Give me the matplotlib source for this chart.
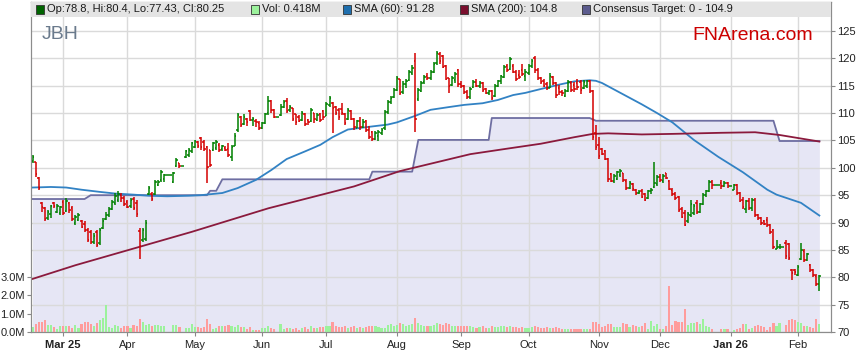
import numpy as np
import pandas as pd
import matplotlib
matplotlib.use('Agg')
import matplotlib.pyplot as plt
from matplotlib.collections import LineCollection
from matplotlib.patches import Rectangle

plt.rcParams['font.family'] = ['Liberation Sans', 'DejaVu Sans']

# Daily bars, 17 Feb 2025 .. 11 Feb 2026 (weekdays, holidays drawn flat)
dates = pd.bdate_range('2025-02-17', periods=258)

opens = [101.2, 101.0, 98.2, 93.5, 92.6, 90.8, 91.5, 93.6, 92.0, 91.8,
         93.8, 92.2, 93.6, 92.6, 90.0, 90.4, 90.3, 89.8, 88.7, 88.2,
         86.4, 88.2, 86.2, 89.0, 90.6, 91.3, 92.5, 93.5, 94.2, 95.1,
         94.5, 93.8, 93.0, 94.3, 93.5, 88.5, 86.8, 87.0, 95.3, 95.2,
         95.3, 96.8, 97.8, 98.0, 98.6, 98.6, 97.4, 100.4, 100.8, 100.3,
         102.0, 102.4, 103.0, 103.8, 104.8, 105.4, 104.8, 103.8, 103.2, 103.3,
         103.6, 104.2, 103.5, 103.7, 103.4, 102.0, 104.0, 107.0, 109.2, 108.0,
         109.0, 110.4, 108.8, 108.5, 108.2, 107.3, 108.2, 110.0, 112.3, 110.6,
         109.3, 109.6, 111.2, 112.3, 110.5, 110.9, 109.8, 109.3, 108.8, 109.9,
         108.8, 108.6, 110.0, 108.8, 109.8, 110.3, 109.5, 111.4, 111.8, 111.2,
         110.6, 110.7, 109.8, 109.0, 110.4, 108.9, 107.3, 108.6, 107.5, 108.5,
         107.0, 106.5, 105.3, 105.8, 106.4, 107.2, 110.2, 112.1, 113.0, 114.2,
         116.2, 113.8, 115.4, 116.0, 117.4, 119.5, 112.5, 114.0, 115.6, 116.8,
         116.5, 117.6, 119.1, 120.8, 120.5, 118.6, 116.4, 115.2, 116.0, 117.8,
         115.4, 114.9, 113.8, 113.0, 114.8, 115.7, 115.0, 115.5, 114.4, 113.6,
         114.0, 113.2, 115.0, 115.8, 116.6, 118.6, 118.0, 118.6, 117.6, 116.9,
         117.8, 116.8, 117.4, 118.6, 120.0, 117.9, 116.4, 115.9, 115.4, 114.6,
         116.6, 115.5, 114.5, 113.8, 113.2, 114.0, 115.5, 115.2, 115.5, 115.6,
         114.6, 115.0, 115.8, 114.0, 106.3, 104.2, 103.4, 103.0, 101.6, 98.8,
         97.6, 98.0, 98.6, 99.0, 97.6, 96.3, 97.0, 96.0, 95.4, 95.8,
         95.2, 94.5, 95.7, 96.5, 97.0, 98.3, 97.6, 99.0, 97.6, 96.0,
         95.2, 94.6, 92.5, 91.7, 90.2, 91.4, 91.7, 93.6, 92.0, 93.4,
         95.0, 95.8, 97.4, 96.8, 96.8, 97.3, 96.6, 97.3, 96.6, 96.0,
         96.8, 95.4, 94.2, 92.5, 94.0, 92.6, 94.2, 91.4, 90.9, 90.2,
         90.5, 89.5, 88.6, 85.2, 85.5, 85.6, 86.2, 86.0, 81.4, 81.4,
         80.5, 83.3, 84.8, 83.2, 82.3, 81.4, 80.3, 78.8]
highs = [102.4, 101.1, 98.4, 93.8, 92.9, 92.3, 93.2, 93.8, 93.4, 93.1,
         94.2, 94.4, 93.8, 93.0, 91.4, 91.7, 90.5, 90.2, 89.0, 88.7,
         88.0, 88.7, 89.0, 90.8, 92.0, 92.9, 94.2, 95.4, 95.7, 95.4,
         94.8, 94.2, 94.5, 94.7, 94.2, 89.0, 89.0, 90.5, 96.6, 95.5,
         97.8, 97.8, 99.6, 98.9, 98.6, 98.6, 99.3, 101.8, 100.9, 100.3,
         103.3, 103.6, 104.8, 105.1, 104.9, 105.7, 105.1, 104.0, 103.3, 104.8,
         105.1, 104.5, 104.2, 103.9, 104.6, 104.2, 106.3, 110.0, 109.5, 109.8,
         109.1, 110.6, 109.3, 108.9, 108.6, 108.4, 110.1, 113.1, 112.4, 110.8,
         109.3, 111.6, 112.4, 112.7, 111.5, 111.0, 109.9, 109.7, 110.3, 110.0,
         109.0, 110.9, 110.1, 110.0, 110.0, 110.6, 112.1, 113.1, 112.0, 111.3,
         110.9, 111.8, 110.0, 110.9, 110.6, 109.1, 108.8, 109.2, 108.9, 108.8,
         107.6, 106.8, 106.7, 106.9, 107.3, 110.6, 112.4, 113.1, 114.5, 116.8,
         116.3, 115.8, 116.2, 117.8, 118.8, 121.0, 114.5, 115.9, 116.9, 117.3,
         117.8, 119.4, 121.4, 121.1, 120.6, 118.8, 116.5, 116.8, 117.6, 118.0,
         115.9, 115.2, 114.2, 114.8, 116.0, 116.2, 115.8, 115.7, 114.6, 114.3,
         114.2, 115.4, 116.1, 117.0, 118.8, 118.9, 120.2, 118.9, 117.9, 117.9,
         118.9, 118.0, 119.0, 119.9, 120.4, 118.2, 116.6, 116.2, 115.6, 117.3,
         116.8, 115.7, 115.1, 114.2, 114.4, 116.1, 115.8, 115.6, 116.2, 116.1,
         116.0, 116.1, 116.0, 114.3, 107.9, 105.7, 103.6, 103.3, 101.8, 99.0,
         98.9, 99.5, 99.8, 99.1, 97.9, 97.6, 97.2, 96.1, 95.9, 96.2,
         95.4, 96.0, 96.3, 101.1, 98.6, 98.9, 98.9, 99.1, 97.8, 96.3,
         95.5, 94.8, 92.9, 92.3, 92.0, 94.2, 93.3, 94.2, 93.6, 95.4,
         96.0, 97.8, 97.7, 96.8, 96.8, 97.7, 97.6, 97.5, 96.6, 97.1,
         97.0, 95.6, 94.6, 94.2, 94.4, 94.4, 94.4, 91.6, 91.0, 90.4,
         91.0, 89.8, 88.9, 86.9, 86.0, 85.6, 86.9, 86.3, 81.5, 81.5,
         82.2, 86.2, 85.1, 84.5, 82.5, 81.6, 80.6, 80.4]
lows = [100.9, 98.4, 96.0, 92.0, 90.2, 90.5, 90.8, 92.6, 91.8, 91.4,
        91.3, 92.0, 91.7, 90.2, 89.6, 90.2, 89.0, 88.3, 86.5, 86.1,
        86.1, 85.6, 85.9, 88.9, 90.5, 91.1, 92.3, 93.2, 93.8, 93.8,
        93.0, 92.6, 92.6, 92.3, 91.1, 83.3, 86.5, 86.6, 95.1, 93.9,
        95.1, 96.6, 97.5, 97.5, 98.6, 98.6, 97.2, 100.2, 100.0, 100.3,
        101.8, 102.0, 102.7, 103.6, 103.6, 103.3, 103.0, 97.2, 100.2, 103.1,
        103.3, 102.8, 103.0, 103.1, 101.9, 101.2, 103.9, 106.5, 107.4, 107.8,
        107.6, 108.5, 107.6, 107.5, 106.9, 107.1, 108.0, 109.7, 110.0, 109.1,
        109.3, 109.5, 110.9, 110.0, 110.2, 108.5, 107.8, 108.4, 108.6, 107.6,
        107.9, 108.4, 108.2, 108.5, 108.4, 108.8, 109.4, 111.2, 106.3, 109.7,
        108.8, 109.7, 107.9, 108.8, 108.8, 107.0, 107.2, 107.0, 107.2, 106.6,
        105.3, 104.9, 105.1, 104.9, 106.0, 107.0, 109.9, 111.6, 112.7, 114.0,
        113.3, 113.5, 114.5, 115.8, 116.9, 106.6, 112.3, 113.8, 115.4, 116.1,
        116.0, 117.3, 118.8, 119.0, 118.2, 116.0, 113.7, 115.0, 115.5, 114.8,
        114.5, 113.4, 112.6, 112.6, 114.5, 114.8, 114.6, 113.9, 113.5, 113.3,
        112.4, 113.0, 114.8, 115.4, 116.4, 117.6, 117.8, 117.3, 115.8, 116.3,
        116.7, 115.9, 117.0, 118.3, 117.3, 116.1, 115.4, 114.7, 114.3, 114.5,
        115.1, 112.8, 113.3, 113.2, 112.9, 113.8, 113.8, 113.8, 114.2, 113.5,
        114.4, 114.6, 113.6, 105.1, 103.3, 101.7, 102.4, 101.5, 97.5, 97.4,
        97.3, 97.7, 98.4, 97.4, 96.0, 96.1, 95.8, 95.0, 95.2, 94.4,
        93.9, 94.3, 95.2, 96.3, 96.6, 97.5, 97.3, 97.9, 95.9, 94.9,
        94.2, 92.0, 90.8, 89.3, 90.0, 91.0, 91.4, 91.5, 91.7, 93.2,
        94.6, 95.6, 96.2, 96.8, 96.8, 96.2, 96.5, 96.4, 96.6, 95.9,
        95.0, 93.7, 92.5, 91.7, 92.3, 92.2, 91.1, 90.5, 89.6, 89.5,
        89.2, 87.9, 85.1, 85.1, 85.2, 85.6, 83.4, 83.2, 79.5, 80.5,
        80.2, 83.1, 82.8, 82.9, 81.0, 80.0, 78.4, 77.43]
closes = [102.0, 98.8, 96.3, 92.9, 90.6, 92.0, 93.0, 93.0, 93.1, 92.9,
          91.8, 94.0, 92.3, 90.6, 91.0, 91.3, 89.2, 88.6, 86.9, 86.5,
          87.6, 85.9, 88.6, 90.3, 91.4, 92.4, 93.8, 94.8, 95.2, 94.4,
          93.4, 92.9, 94.2, 92.6, 91.5, 85.8, 88.6, 90.0, 96.3, 94.3,
          97.4, 97.5, 99.3, 98.6, 98.6, 98.6, 99.0, 101.5, 100.3, 100.3,
          103.0, 103.2, 104.5, 104.9, 103.9, 103.8, 103.4, 100.2, 100.6, 104.5,
          104.7, 103.2, 103.9, 103.3, 102.3, 103.8, 105.9, 109.6, 107.9, 109.3,
          108.3, 108.8, 109.0, 108.3, 107.3, 108.1, 109.8, 112.3, 110.5, 109.3,
          109.3, 111.2, 112.0, 110.4, 111.2, 108.9, 108.3, 108.6, 110.0, 108.0,
          108.4, 110.5, 108.9, 109.7, 108.7, 109.2, 111.6, 112.8, 111.0, 110.0,
          109.2, 110.0, 108.2, 110.6, 109.0, 107.5, 108.5, 107.4, 108.4, 106.9,
          105.7, 105.3, 106.3, 106.5, 106.9, 110.2, 112.0, 112.8, 114.2, 116.4,
          113.7, 115.4, 115.9, 117.5, 118.3, 108.9, 114.2, 115.5, 116.6, 116.4,
          117.5, 119.0, 121.0, 119.6, 118.5, 116.3, 115.0, 116.4, 117.2, 115.3,
          114.9, 113.8, 112.9, 114.4, 115.6, 115.0, 115.5, 114.2, 113.7, 114.1,
          112.8, 115.0, 115.8, 116.7, 118.5, 117.9, 119.8, 117.6, 116.2, 116.6,
          117.2, 117.6, 118.6, 119.6, 117.9, 116.5, 115.7, 115.0, 114.6, 116.8,
          115.5, 113.3, 113.8, 113.6, 114.1, 115.6, 114.2, 114.4, 114.7, 114.2,
          115.6, 115.8, 114.1, 105.6, 103.8, 102.2, 102.6, 101.7, 98.0, 97.6,
          98.5, 99.2, 99.5, 97.7, 96.3, 97.2, 96.1, 95.4, 95.6, 94.6,
          94.1, 95.7, 96.0, 97.3, 98.3, 97.8, 98.5, 98.2, 96.2, 95.2,
          94.5, 92.3, 91.1, 89.6, 91.6, 93.4, 93.0, 91.9, 93.3, 95.0,
          95.8, 97.4, 96.8, 96.8, 96.8, 96.6, 97.2, 96.6, 96.6, 96.8,
          95.4, 94.0, 92.8, 93.9, 92.6, 94.1, 91.4, 90.8, 90.0, 89.8,
          89.5, 88.2, 85.5, 85.6, 85.6, 85.6, 83.8, 83.5, 80.8, 80.9,
          81.9, 85.0, 83.2, 84.2, 81.4, 80.4, 78.8, 80.25]

# volume in millions (0 = holiday)
volumes = [0.27, 0.42, 0.53, 0.53, 0.67, 0.36, 0.36, 0.25, 0.18, 0.35,
           0.35, 0.31, 0.31, 0.20, 0.40, 0.20, 0.45, 0.56, 0.56, 0.42,
           0.31, 0.49, 0.64, 0.75, 1.45, 0.25, 0.24, 0.36, 0.31, 0.20,
           0.31, 0.31, 0.20, 0.38, 0.31, 0.69, 0.53, 0.38, 0.42, 0.35,
           0.36, 0.36, 0.31, 0.31, 0, 0, 0.36, 0.40, 0.25, 0,
           0.24, 0.20, 0.42, 0.27, 0.25, 0.20, 0.25, 0.69, 0.42, 0.18,
           0.20, 0.31, 0.31, 0.33, 0.40, 0.35, 0.27, 0.40, 0.27, 0.25,
           0.15, 0.25, 0.13, 0.13, 0.11, 0.24, 0.22, 0.35, 0.20, 0.15,
           0, 0.45, 0.15, 0.20, 0.20, 0.15, 0.20, 0.09, 0.20, 0.25,
           0.18, 0.30, 0.22, 0.20, 0.28, 0.25, 0.35, 0.30, 0.55, 0.30,
           0.25, 0.28, 0.30, 0.22, 0.25, 0.30, 0.22, 0.28, 0.20, 0.25,
           0.30, 0.35, 0.30, 0.25, 0.22, 0.20, 0.40, 0.45, 0.35, 0.40,
           0.50, 0.45, 0.35, 0.40, 0.45, 0.75, 0.50, 0.40, 0.35, 0.30,
           0.35, 0.40, 0.50, 0.45, 0.40, 0.50, 0.45, 0.30, 0.30, 0.35,
           0.30, 0.30, 0.35, 0.30, 0.25, 0.22, 0.25, 0.30, 0.20, 0.22,
           0.30, 0.25, 0.25, 0.30, 0.35, 0.25, 0.30, 0.28, 0.25, 0.22,
           0.25, 0.20, 0.22, 0.25, 0.30, 0.25, 0.22, 0.20, 0.25, 0.22,
           0.20, 0.28, 0.22, 0.18, 0.18, 0.18, 0.15, 0.15, 0.18, 0.18,
           0.15, 0.18, 0.18, 0.53, 0.56, 0.42, 0.27, 0.31, 0.45, 0.45,
           0.25, 0.25, 0.25, 0.47, 0.42, 0.25, 0.36, 0.35, 0.27, 0.31,
           0.49, 0.18, 0.58, 0.33, 0.44, 0.18, 0.18, 0.31, 2.49, 0.40,
           0.58, 0.53, 0.53, 1.24, 0.36, 0.49, 0.49, 0.53, 0.42, 0.73,
           0.31, 0.29, 0.15, 0, 0, 0.15, 0.15, 0.18, 0, 0.09,
           0.16, 0.22, 0.42, 0.42, 0.18, 0.20, 0.31, 0.36, 0.33, 0.27,
           0.13, 0.27, 0.49, 0.31, 0.49, 0, 0.36, 0.64, 0.73, 0.64,
           0.55, 0.49, 0.35, 0.33, 0.29, 0.22, 0.69, 0.418]

# moving averages and consensus target, read at day positions
sma60_days = [0, 6, 11, 16, 22, 27, 33, 38, 44, 51, 55, 62, 67, 73, 78, 83, 89, 94,
              98, 103, 110, 116, 119, 125, 130, 136, 141, 147, 152, 157, 161, 166,
              172, 177, 182, 184, 186, 188, 193, 199, 204, 209, 216, 224, 232, 240,
              243, 251, 257]
sma60_vals = [96.4, 96.5, 96.4, 96.0, 95.6, 95.3, 95.1, 94.9, 94.8, 94.9, 95.0, 95.4,
              96.3, 97.8, 99.6, 101.6, 103.0, 104.2, 105.6, 107.0, 107.5, 107.9,
              108.3, 109.5, 110.6, 111.1, 111.5, 111.8, 112.4, 113.3, 113.7, 114.4,
              115.2, 115.8, 116.0, 115.9, 115.5, 114.9, 113.4, 111.6, 110.0, 108.3,
              105.1, 102.0, 99.2, 96.0, 95.1, 93.6, 91.28]
sma200_days = [0, 14, 52, 77, 105, 120, 143, 155, 166, 177, 183, 188, 199, 209,
               225, 236, 244, 257]
sma200_vals = [79.7, 82.2, 88.3, 92.6, 96.6, 99.4, 102.5, 103.5, 104.4, 105.6,
               106.2, 106.3, 106.1, 106.2, 106.4, 106.5, 106.0, 104.8]
cons_days = [0, 17, 19, 57, 58, 60, 62, 110, 111, 124, 126, 149, 150, 182, 184,
             242, 244, 257]
cons_vals = [94.3, 94.3, 95.0, 95.0, 95.8, 95.8, 97.9, 97.9, 99.3, 99.3, 105.1,
             105.1, 109.1, 109.1, 108.6, 108.6, 104.9, 104.9]

x = np.arange(len(dates))
o = np.array(opens)
h = np.array(highs)
l = np.array(lows)
c = np.array(closes)
v = np.array(volumes)
up = c >= o

fig = plt.figure(figsize=(8.59, 3.63), dpi=100)
ax = fig.add_axes([31/859, 31/363, 800/859, 330/363])
axv = ax.twinx()

# consensus target shading
ax.fill_between(cons_days, 70, cons_vals, color='#e6e6f5', lw=0, zorder=0.3)
ax.plot(cons_days, cons_vals, color='#6e6ea2', lw=1.3, zorder=1.2)

# OHLC bars
segs = []
cols = []
for i in range(len(x)):
    col = '#008000' if up[i] else '#d40000'
    segs += [[(x[i], l[i]), (x[i], h[i])],
             [(x[i] - 0.5, o[i]), (x[i], o[i])],
             [(x[i], c[i]), (x[i] + 0.5, c[i])]]
    cols += [col] * 3
ax.add_collection(LineCollection(segs, colors=cols, linewidths=1.1, zorder=3))

ax.plot(sma60_days, sma60_vals, color='#3282c4', lw=1.3, zorder=2.5)
ax.plot(sma200_days, sma200_vals, color='#8b1a3d', lw=1.3, zorder=2.5)

# volume
vcol = np.where(up, '#9cf29c', '#ff9c9c')
axv.bar(x, v, width=0.7, color=vcol, lw=0, zorder=2)

# axes setup
month_ticks = [i for i in range(1, len(dates)) if dates[i].month != dates[i - 1].month]
labels = []
for i in month_ticks:
    d = dates[i]
    if d.month == 1 or i == month_ticks[0]:
        labels.append(d.strftime('%b ') + d.strftime('%y'))
    else:
        labels.append(d.strftime('%b'))

ax.set_xlim(-0.5, 260.8)
ax.set_ylim(70, 130.3)
ax.set_xticks(month_ticks)
ax.set_xticklabels(labels)
for t in ax.get_xticklabels():
    if ' ' in t.get_text():
        t.set_fontweight('bold')
ax.set_yticks(range(70, 126, 5))
ax.yaxis.tick_right()
ax.set_axisbelow(True)
ax.grid(True, color='#dadada', lw=1)
ax.tick_params(axis='both', labelsize=8, length=3, color='#888888',
               labelcolor='#222222', pad=1.5)
ax.tick_params(axis='x', pad=3)

axv.set_ylim(0, 17.93)
axv.set_yticks([0, 1, 2, 3])
axv.set_yticklabels(['0.0M', '1.0M', '2.0M', '3.0M'])
axv.yaxis.tick_left()
axv.tick_params(axis='y', labelsize=8, length=3, color='#888888',
                labelcolor='#222222', pad=1.5)

for a in (ax, axv):
    for s in a.spines.values():
        s.set_color('#8c8c8c')

# legend band
band_h = 15 / 330
axv.add_patch(Rectangle((0, 1 - band_h), 1, band_h, transform=axv.transAxes,
                        facecolor='#e4e4e4', edgecolor='none', zorder=10))
legend_items = [(36, '#006400', 'Op:78.8, Hi:80.4, Lo:77.43, Cl:80.25'),
                (251, '#9cf29c', 'Vol: 0.418M'),
                (343, '#1f6fae', 'SMA (60): 91.28'),
                (460, '#7a0f2e', 'SMA (200): 104.8'),
                (582, '#5c5c8e', 'Consensus Target: 0 - 104.9')]
yc = 1 - 7.5 / 330
for px, col, txt in legend_items:
    xf = (px - 31) / 800
    axv.add_patch(Rectangle((xf, yc - 4 / 330), 8 / 800, 8 / 330,
                            transform=axv.transAxes, facecolor=col,
                            edgecolor='#333333', lw=0.6, zorder=11))
    axv.text(xf + 11 / 800, yc, txt, transform=axv.transAxes, fontsize=8,
             color='#1a1a1a', va='center', ha='left', zorder=12)

axv.text((42 - 31) / 800, 1 - 37 / 330, 'JBH', transform=axv.transAxes,
         fontsize=14, color='#6a7a8c', va='baseline', ha='left', zorder=12)
axv.text((692 - 31) / 800, 1 - 38 / 330, 'FNArena.com', transform=axv.transAxes,
         fontsize=14, color='#cc0000', va='baseline', ha='left', zorder=12)

plt.savefig('out.png', dpi=100)
